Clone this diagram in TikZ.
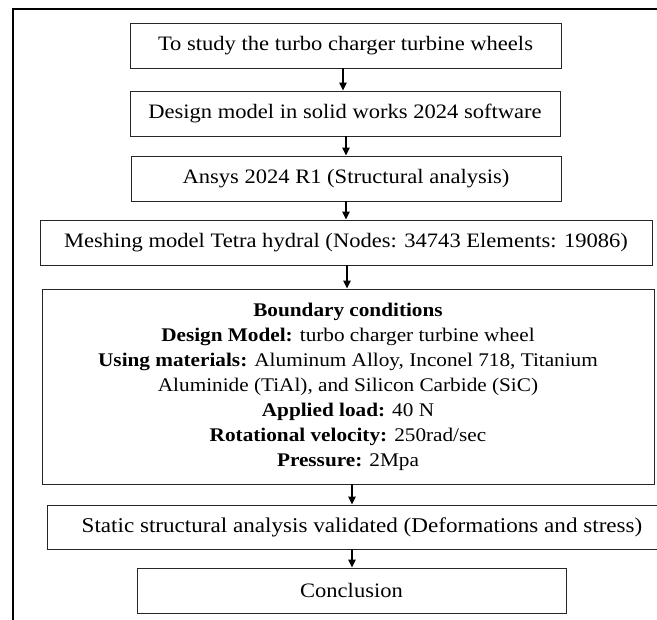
\documentclass[tikz,border=0pt]{standalone}
\usepackage{fontspec}
\setmainfont[FakeStretch=1.1]{Liberation Serif}
\usetikzlibrary{arrows.meta}
\begin{document}
\begin{tikzpicture}[x=1pt,y=-1pt,
  box/.style={draw=black!85,line width=0.9pt,rectangle,inner sep=0pt,align=center,
    font=\fontsize{20.5}{25}\selectfont},
  arr/.style={draw=black,line width=1.2pt,-{Triangle[length=8pt,width=7.5pt]}},
  frame/.style={draw=black,line width=2.2pt}]
\useasboundingbox (0,0) rectangle (657,620);
\clip (0,0) rectangle (657,620);
\draw[frame] (13,620) -- (13,9) -- (657,9);
\node[box,minimum width=431pt,minimum height=45pt] (b1) at (345.5,45.5) {To study the turbo charger turbine wheels};
\node[box,minimum width=430pt,minimum height=45pt] (b2) at (345,113.5) {Design model in solid works 2024 software};
\node[box,minimum width=430pt,minimum height=45pt] (b3) at (346,178.5) {Ansys 2024 R1 (Structural analysis)};
\node[box,minimum width=612pt,minimum height=45pt] (b4) at (346,242.5) {Meshing model Tetra hydral (Nodes: 34743 Elements: 19086)};
\node[box,minimum width=612pt,minimum height=195pt,font=\fontsize{19.3}{25}\selectfont] (b5) at (348,386.5) {\textbf{Boundary conditions}\\
\textbf{Design Model:} turbo charger turbine wheel\\
\textbf{Using materials:} Aluminum Alloy, Inconel 718, Titanium\\
Aluminide (TiAl), and Silicon Carbide (SiC)\\
\textbf{Applied load:} 40 N\\
\textbf{Rotational velocity:} 250rad/sec\\
\textbf{Pressure:} 2Mpa};
\node[box,minimum width=630pt,minimum height=44pt,font=\fontsize{21}{25}\selectfont] (b6) at (362,527) {Static structural analysis validated (Deformations and stress)};
\node[box,minimum width=429pt,minimum height=45pt] (b7) at (351.5,590.5) {Conclusion};
\draw[arr] (b1.south -| 343,0) -- (b2.north -| 343,0);
\draw[arr] (b2.south -| 346,0) -- (b3.north -| 346,0);
\draw[arr] (b3.south -| 346,0) -- (b4.north -| 346,0);
\draw[arr] (b4.south -| 347,0) -- (b5.north -| 347,0);
\draw[arr] (b5.south -| 352,0) -- (b6.north -| 352,0);
\draw[arr] (b6.south -| 352,0) -- (b7.north -| 352,0);
\end{tikzpicture}
\end{document}
